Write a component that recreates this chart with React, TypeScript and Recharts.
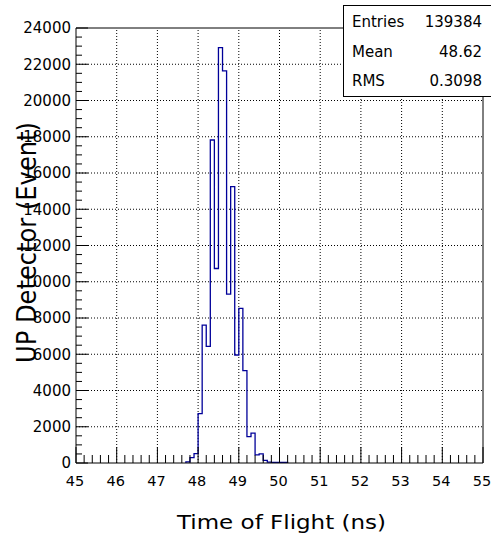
import React from 'react';
import { LineChart, Line, XAxis, YAxis, ReferenceLine } from 'recharts';

// Histogram bins: low edge (ns) and counts, bin width 0.1 ns
const binLowEdges = [47.7, 47.8, 47.9, 48.0, 48.1, 48.2, 48.3, 48.4, 48.5, 48.6, 48.7, 48.8, 48.9, 49.0, 49.1, 49.2, 49.3, 49.4, 49.5, 49.6, 49.7, 49.8, 49.9, 50.0, 50.1];
const binCounts = [60, 300, 520, 2720, 7610, 6440, 17820, 10730, 22920, 21630, 9320, 15250, 5960, 8530, 5100, 1450, 1650, 450, 500, 150, 50, 40, 40, 30, 30];
const histUpperEdge = 50.2;

const xMajorTicks = [45, 46, 47, 48, 49, 50, 51, 52, 53, 54, 55];
const yMajorTicks = [0, 2000, 4000, 6000, 8000, 10000, 12000, 14000, 16000, 18000, 20000, 22000, 24000];
const xGridValues = [46, 47, 48, 49, 50, 51, 52, 53, 54];
const yGridValues = [2000, 4000, 6000, 8000, 10000, 12000, 14000, 16000, 18000, 20000, 22000];

const statLabels = ['Entries', 'Mean', 'RMS'];
const statValues = ['139384', '48.62', '0.3098'];

const xTitle = 'Time of Flight (ns)';
const yTitle = 'UP Detector (Event)';

const W = 491;
const H = 536;
const FONT = '"DejaVu Sans", Arial, sans-serif';
const HIST_COLOR = '#000099';

const histData = [
  { x: binLowEdges[0], y: 0 },
  ...binLowEdges.map((x, i) => ({ x, y: binCounts[i] })),
  { x: histUpperEdge, y: 0 },
];

const subdivide = (majors: number[], n: number) => {
  const out: number[] = [];
  for (let i = 0; i < majors.length - 1; i++) {
    const a = majors[i];
    const b = majors[i + 1];
    for (let k = 0; k < n; k++) out.push(Math.round((a + ((b - a) * k) / n) * 1000) / 1000);
  }
  out.push(majors[majors.length - 1]);
  return out;
};

const xTicksAll = subdivide(xMajorTicks, 5);
const yTicksAll = subdivide(yMajorTicks, 4);

const isMajor = (arr: number[], v: number) => arr.some((m) => Math.abs(m - v) < 1e-6);

const XTick = (props: any) => {
  const { x, y, payload } = props;
  const v = payload.value;
  const major = isMajor(xMajorTicks, v);
  return (
    <g>
      <line x1={x} x2={x} y1={y} y2={y - (major ? 16 : 8)} stroke="#000" strokeWidth={1} />
      {major && (
        <text x={x - 1} y={y + 23} textAnchor="middle" fontFamily={FONT} fontSize={14.5} fill="#000">
          {String(v)}
        </text>
      )}
    </g>
  );
};

const YTick = (props: any) => {
  const { x, y, payload } = props;
  const v = payload.value;
  const major = isMajor(yMajorTicks, v);
  return (
    <g>
      <line x1={x} x2={x + (major ? 12 : 6)} y1={y} y2={y} stroke="#000" strokeWidth={1} />
      {major && (
        <text x={x - 5} y={y} dy="0.36em" textAnchor="end" fontFamily={FONT} fontSize={15} fill="#000">
          {String(v)}
        </text>
      )}
    </g>
  );
};

const XTitle = (props: any) => {
  const vb = props.viewBox || { x: 76, y: 463, width: 407, height: 73 };
  const cx = vb.x + vb.width / 2 + 2;
  const cy = vb.y + 66;
  return (
    <text x={cx} y={cy} textAnchor="middle" fontFamily={FONT} fontSize={20} textLength={209} lengthAdjust="spacingAndGlyphs" fill="#000">
      {xTitle}
    </text>
  );
};

const YTitle = (props: any) => {
  const vb = props.viewBox || { x: 0, y: 28, width: 76, height: 435 };
  const cx = 36;
  const cy = vb.y + vb.height / 2 - 3;
  return (
    <text
      x={cx}
      y={cy}
      transform={`rotate(-90, ${cx}, ${cy})`}
      textAnchor="middle"
      fontFamily={FONT}
      fontSize={27}
      textLength={241}
      lengthAdjust="spacingAndGlyphs"
      fill="#000"
    >
      {yTitle}
    </text>
  );
};

export default function App() {
  return (
    <div style={{ position: 'absolute', left: 0, top: 0, width: W, height: H, overflow: 'hidden', background: '#fff' }}>
      <LineChart width={W} height={H} data={histData} margin={{ top: 28, right: 8, left: 0, bottom: 0 }}>
        <XAxis
          dataKey="x"
          type="number"
          domain={[45, 55]}
          ticks={xTicksAll}
          interval={0}
          allowDataOverflow
          height={73}
          tickSize={0}
          tickMargin={0}
          tickLine={false}
          tick={<XTick />}
          axisLine={{ stroke: '#000', strokeWidth: 1 }}
          label={<XTitle />}
        />
        <YAxis
          type="number"
          domain={[0, 24000]}
          ticks={yTicksAll}
          interval={0}
          allowDataOverflow
          width={76}
          tickSize={0}
          tickMargin={0}
          tickLine={false}
          tick={<YTick />}
          axisLine={{ stroke: '#000', strokeWidth: 1 }}
          label={<YTitle />}
        />
        {xGridValues.map((v) => (
          <ReferenceLine key={'gx' + v} x={v} stroke="#000" strokeWidth={1} strokeDasharray="1 2" />
        ))}
        {yGridValues.map((v) => (
          <ReferenceLine key={'gy' + v} y={v} stroke="#000" strokeWidth={1} strokeDasharray="1 2" />
        ))}
        <ReferenceLine y={24000} stroke="#000" strokeWidth={1} />
        <ReferenceLine x={55} stroke="#000" strokeWidth={1} />
        <Line
          type="stepAfter"
          dataKey="y"
          stroke={HIST_COLOR}
          strokeWidth={1.3}
          dot={false}
          activeDot={false}
          isAnimationActive={false}
        />
      </LineChart>
      <svg width={W} height={H} style={{ position: 'absolute', left: 0, top: 0, pointerEvents: 'none' }}>
        <rect x={343.5} y={5.5} width={160} height={91} fill="#fff" stroke="#000" strokeWidth={1} />
        {statLabels.map((lab, i) => (
          <g key={lab}>
            <text x={352} y={27 + i * 29.5} fontFamily={FONT} fontSize={15} fill="#000">
              {lab}
            </text>
            <text x={482} y={27 + i * 29.5} textAnchor="end" fontFamily={FONT} fontSize={15} fill="#000">
              {statValues[i]}
            </text>
          </g>
        ))}
      </svg>
    </div>
  );
}
